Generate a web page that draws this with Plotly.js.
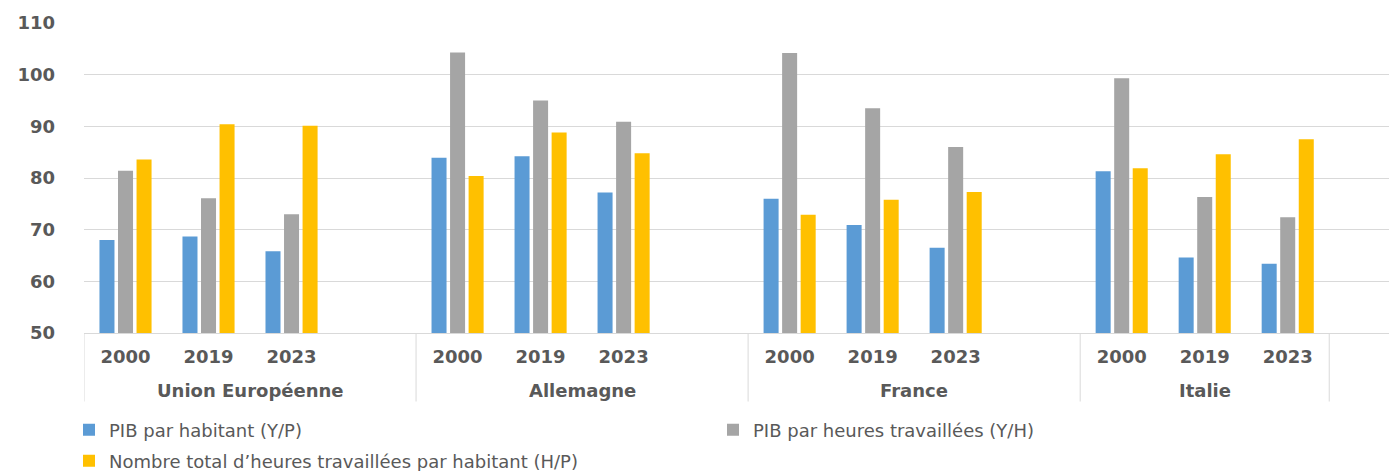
<!DOCTYPE html>
<html>
<head>
<meta charset="utf-8">
<script src="https://cdn.plot.ly/plotly-3.0.1.min.js"></script>
<style>
html,body{margin:0;padding:0;background:#fff;}
#chart{width:1389px;height:471px;}
</style>
</head>
<body>
<div id="chart"></div>
<script>
// ---- data ----
const groups = ["Union Européenne", "Allemagne", "France", "Italie"];
const years = ["2000", "2019", "2023"];
const seriesNames = [
  "PIB par habitant (Y/P)",
  "PIB par heures travaillées (Y/H)",
  "Nombre total d\u2019heures travaillées par habitant (H/P)"
];
// values per group, in year order 2000, 2019, 2023
const pibHabitant = [
  [68.0, 68.7, 65.8],
  [83.9, 84.2, 77.2],
  [76.0, 70.9, 66.5],
  [81.3, 64.6, 63.4]
];
const pibHeures = [
  [81.4, 76.1, 73.0],
  [104.3, 95.0, 90.9],
  [104.2, 93.5, 86.0],
  [99.3, 76.3, 72.4]
];
const heuresHabitant = [
  [83.6, 90.4, 90.1],
  [80.4, 88.8, 84.8],
  [72.9, 75.8, 77.3],
  [81.9, 84.6, 87.5]
];
const colors = ["#5B9BD5", "#A5A5A5", "#FFC000"];

// ---- category slots: each group has its years plus one empty slot (except the last) ----
const xPos = [], tickText = [], groupStart = [], groupEnd = [];
let slot = 0;
groups.forEach((g, gi) => {
  groupStart.push(slot - 0.5);
  years.forEach(y => { xPos.push(slot); tickText.push(y); slot++; });
  if (gi < groups.length - 1) slot++;
  groupEnd.push(slot - 0.5);
});
const flat = vals => vals.flat();

const allSeries = [pibHabitant, pibHeures, heuresHabitant];
const legendIds = ["legend", "legend2", "legend3"];
const traces = allSeries.map((s, i) => ({
  type: "bar",
  name: seriesNames[i],
  x: xPos,
  y: flat(s),
  marker: {color: colors[i]},
  legend: legendIds[i],
  hoverinfo: "y+name"
}));

const txt = "#595959";
const lineCol = "#d9d9d9";
const divBottom = -0.221;   // paper units below the axis

const shapes = [];
groupStart.concat([groupEnd[groupEnd.length - 1]]).forEach(xb => {
  shapes.push({type: "line", xref: "x", yref: "paper", x0: xb, x1: xb, y0: 0, y1: divBottom,
               line: {color: lineCol, width: 1}});
});
const annotations = groups.map((g, gi) => ({
  text: g, xref: "x", yref: "paper",
  x: (groupStart[gi] + groupEnd[gi]) / 2, y: -0.186,
  xanchor: "center", yanchor: "middle", showarrow: false,
  font: {family: "DejaVu Sans, sans-serif", size: 18, color: txt, weight: "bold"}
}));

const legFont = {family: "DejaVu Sans, sans-serif", size: 18, color: txt};
const W = 1389, H = 471;
function leg(xpx, ypx) {
  return {orientation: "h", x: xpx / W, xref: "container", xanchor: "left",
          y: 1 - ypx / H, yref: "container", yanchor: "middle",
          font: legFont, bgcolor: "rgba(0,0,0,0)", borderwidth: 0};
}

const layout = {
  width: W, height: H,
  margin: {l: 84, r: 0, t: 22.7, b: 137.7},
  paper_bgcolor: "#fff", plot_bgcolor: "#fff",
  font: {family: "DejaVu Sans, sans-serif", color: txt},
  barmode: "group",
  bargap: 0.33,
  bargroupgap: 0.19,
  showlegend: true,
  xaxis: {
    range: [-0.5, 15.22],
    tickmode: "array", tickvals: xPos, ticktext: tickText,
    showline: true, linecolor: lineCol, linewidth: 1,
    showgrid: false, zeroline: false,
    ticks: "",
    ticklabelstandoff: 7,
    tickfont: {family: "DejaVu Sans, sans-serif", size: 18, color: txt, weight: "bold"}
  },
  yaxis: {
    range: [50, 110],
    dtick: 10,
    showgrid: true, gridcolor: lineCol, gridwidth: 1,
    zeroline: false, showline: false,
    ticks: "",
    ticklabelstandoff: 28,
    tickfont: {family: "DejaVu Sans, sans-serif", size: 18, color: txt, weight: "bold"}
  },
  legend: leg(69, 430),
  legend2: leg(713, 430),
  legend3: leg(69, 461),
  shapes: shapes,
  annotations: annotations
};
Plotly.newPlot("chart", traces, layout, {displayModeBar: false, staticPlot: true});
</script>
</body>
</html>
